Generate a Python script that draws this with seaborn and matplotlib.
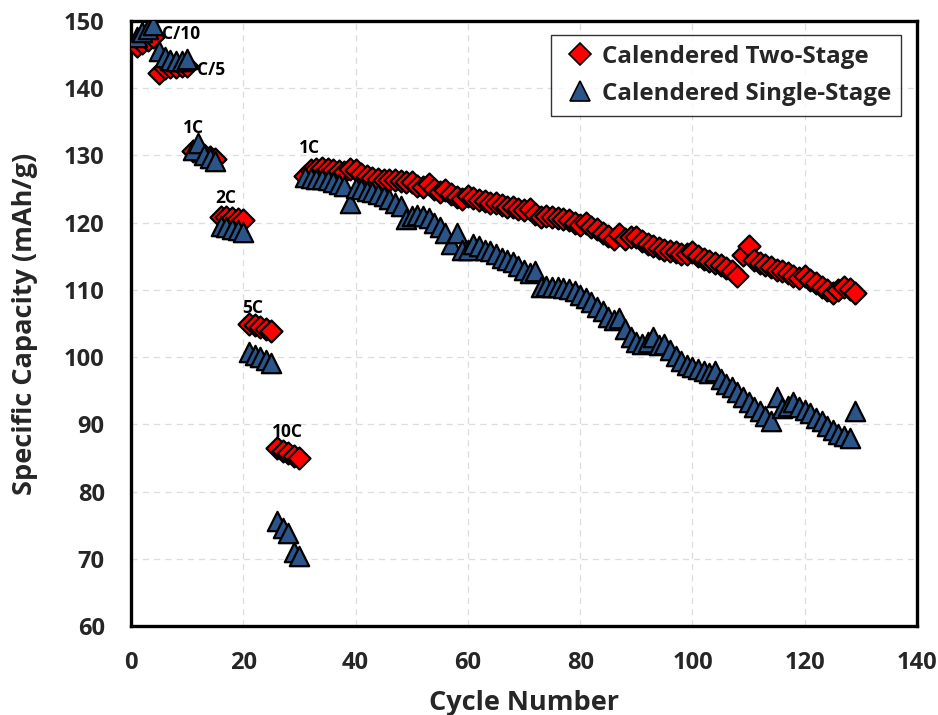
import matplotlib
matplotlib.use("Agg")
import matplotlib.pyplot as plt
import seaborn as sns
import pandas as pd
from matplotlib.lines import Line2D

# Cycle index and discharge capacity (mAh/g) for both electrodes
cycles = list(range(1, 130))

two_stage = [
    # C/10
    146.3, 146.8, 147.2, 147.6,
    # C/5
    142.3, 143.0, 143.1, 143.2, 143.3, 143.3,
    # 1C
    130.6, 130.4, 130.1, 129.7, 129.4,
    # 2C
    120.9, 120.8, 120.7, 120.6, 120.4,
    # 5C
    105.0, 104.8, 104.5, 104.2, 103.9,
    # 10C
    86.5, 86.0, 85.7, 85.3, 85.0,
    # 1C long-term cycling (31-129)
    127.0, 127.8, 128.0, 128.1, 128.0, 127.8, 127.7, 127.5, 128.0, 127.9,
    127.2, 126.9, 126.6, 126.5, 126.4, 126.3, 126.4, 126.2, 126.0, 126.1,
    125.5, 125.3, 125.7, 125.0, 124.6, 124.8, 124.2, 123.8, 123.5, 123.9,
    123.6, 123.4, 123.2, 122.9, 123.0, 122.7, 122.4, 122.3, 122.1, 121.9,
    122.0, 121.3, 120.8, 121.0, 120.8, 120.7, 120.5, 120.4, 120.0, 119.7,
    120.0, 119.3, 119.0, 118.5, 118.0, 117.6, 118.3, 117.5, 117.8, 117.9,
    117.3, 116.9, 116.6, 116.3, 116.0, 115.8, 115.6, 115.4, 115.3, 115.6,
    115.0, 114.6, 114.3, 114.0, 113.7, 113.3, 112.8, 112.0, 115.2, 116.6,
    114.5, 114.0, 113.7, 113.4, 113.0, 112.8, 112.5, 112.0, 111.7, 112.0,
    111.5, 111.0, 110.5, 110.0, 109.6, 110.0, 110.5, 110.2, 109.6,
]

single_stage = [
    # C/10
    147.6, 148.3, 148.8, 149.4,
    # C/5
    145.5, 144.6, 144.2, 144.0, 144.0, 144.4,
    # 1C
    130.8, 131.8, 130.0, 129.6, 129.2,
    # 2C
    119.5, 119.3, 119.1, 118.9, 118.6,
    # 5C
    100.8, 100.3, 100.0, 99.6, 99.1,
    # 10C
    75.6, 74.6, 73.8, 71.0, 70.4,
    # 1C long-term cycling (31-129)
    126.8, 126.7, 126.5, 126.5, 126.3, 126.0, 125.8, 125.5, 123.0, 125.2,
    125.0, 124.7, 124.5, 124.2, 124.0, 123.5, 123.0, 122.5, 120.5, 121.0,
    121.2, 121.0, 120.7, 120.0, 119.3, 118.5, 116.8, 118.5, 116.0, 116.0,
    116.8, 116.5, 116.0, 115.8, 115.3, 114.8, 114.5, 114.2, 113.6, 113.0,
    112.5, 112.8, 110.5, 110.6, 110.5, 110.5, 110.3, 110.2, 109.8, 109.2,
    108.8, 108.2, 107.5, 106.8, 106.0, 105.5, 105.8, 104.2, 103.0, 102.2,
    102.0, 102.3, 103.0, 101.8, 102.0, 101.0, 100.2, 99.4, 98.9, 98.5,
    98.2, 98.0, 97.6, 98.0, 96.8, 96.0, 95.5, 94.8, 94.0, 93.3,
    92.6, 92.0, 91.2, 90.5, 94.0, 92.5, 92.8, 93.3, 92.6, 92.2,
    91.7, 91.0, 90.5, 89.8, 89.2, 88.5, 88.2, 87.9, 92.0,
]

# C-rate labels and where they sit (cycle, capacity)
rate_labels = ["C/10", "C/5", "1C", "2C", "5C", "10C", "1C"]
label_cycles = [5.6, 11.7, 11.2, 16.8, 21.6, 27.8, 31.7]
label_caps = [148.1, 142.7, 134.1, 123.7, 107.3, 88.9, 131.1]
label_align = ["left", "left", "center", "center", "center", "center", "center"]

series_names = ["Calendered Two-Stage", "Calendered Single-Stage"]
colors = {"Calendered Two-Stage": "#FF0000", "Calendered Single-Stage": "#2B5488"}
markers = {"Calendered Two-Stage": "D", "Calendered Single-Stage": "^"}
sizes = {"Calendered Two-Stage": 125, "Calendered Single-Stage": 195}

df = pd.concat([
    pd.DataFrame({"Cycle": cycles, "Capacity": two_stage, "Electrode": series_names[0]}),
    pd.DataFrame({"Cycle": cycles, "Capacity": single_stage, "Electrode": series_names[1]}),
])

sns.set_theme(style="white")
plt.rcParams["font.family"] = ["Open Sans", "DejaVu Sans"]
plt.rcParams["font.weight"] = "bold"

fig = plt.figure(figsize=(9.38, 7.15), dpi=100)
ax = fig.add_axes([0.1397, 0.1245, 0.8379, 0.8461])

for name in series_names:
    sub = df[df["Electrode"] == name]
    sns.scatterplot(data=sub, x="Cycle", y="Capacity", ax=ax,
                    marker=markers[name], color=colors[name], s=sizes[name],
                    edgecolor="black", linewidth=1.6, legend=False, zorder=3)

for txt, cx, cy, ha in zip(rate_labels, label_cycles, label_caps, label_align):
    ax.text(cx, cy, txt, ha=ha, va="center", fontsize=12.5,
            fontweight="bold", color="black", zorder=4)

ax.set_xlim(0, 140)
ax.set_ylim(60, 150)
ax.set_xticks(range(0, 141, 20))
ax.set_yticks(range(60, 151, 10))
ax.grid(True, color="#DDDDDD", linestyle=(0, (5, 4)), linewidth=0.9)
ax.set_axisbelow(True)

for sp in ax.spines.values():
    sp.set_color("black")
    sp.set_linewidth(2.4)

ax.tick_params(axis="both", direction="in", length=6, width=2, color="black",
               labelsize=17)
ax.tick_params(axis="y", pad=19)
ax.tick_params(axis="x", pad=18)
for lab in ax.get_xticklabels() + ax.get_yticklabels():
    lab.set_fontweight("bold")

ax.set_xlabel("Cycle Number", fontsize=19.5, fontweight="bold", labelpad=11)
ax.set_ylabel("Specific Capacity (mAh/g)", fontsize=19.5, fontweight="bold", labelpad=19)

handles = [
    Line2D([0], [0], marker="D", linestyle="none", markersize=11,
           markerfacecolor=colors[series_names[0]], markeredgecolor="black",
           markeredgewidth=1.2),
    Line2D([0], [0], marker="^", linestyle="none", markersize=14,
           markerfacecolor=colors[series_names[1]], markeredgecolor="black",
           markeredgewidth=1.2),
]
leg = ax.legend(handles, series_names, loc="upper right",
                bbox_to_anchor=(0.98, 0.977), frameon=True,
                fancybox=False, handletextpad=0.12, handlelength=1.6,
                borderpad=0.4, labelspacing=0.55, borderaxespad=0.0,
                prop={"weight": "bold", "size": 17.4})
leg.get_frame().set_edgecolor("black")
leg.get_frame().set_linewidth(1.0)

fig.savefig("out.png", dpi=100)
